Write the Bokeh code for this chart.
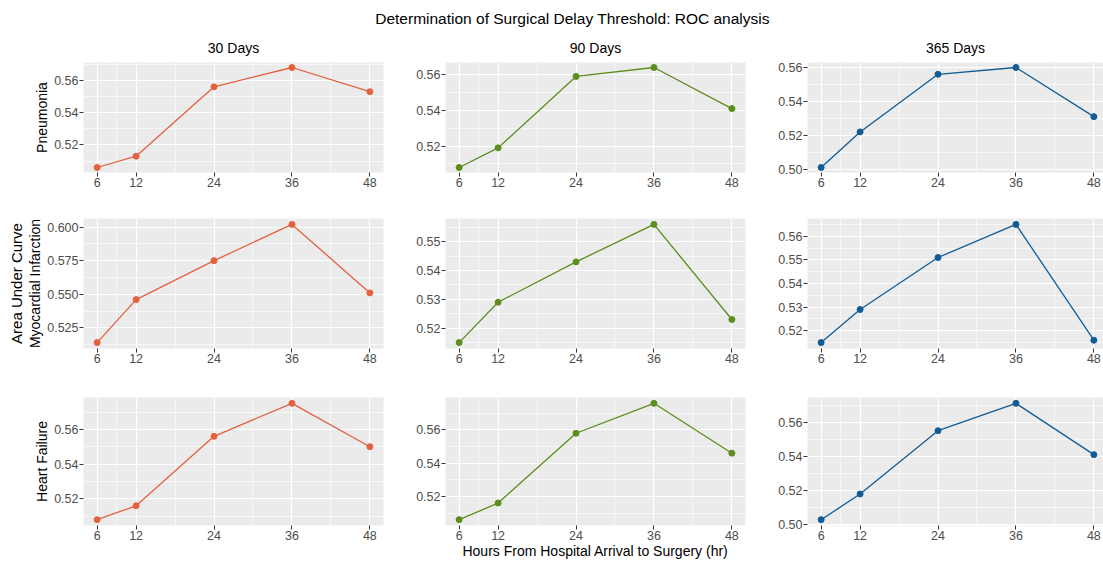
from bokeh.plotting import figure
from bokeh.layouts import row, column
from bokeh.models import FixedTicker, Range1d, LinearAxis
from bokeh.embed import file_html
from bokeh.resources import INLINE

# ---------------- data ----------------
hours = [6, 12, 24, 36, 48]
hour_labels = ["6", "12", "24", "36", "48"]
periods = ["30 Days", "90 Days", "365 Days"]
outcomes = ["Pneumonia", "Myocardial Infarction", "Heart Failure"]
colors = ["#E4603E", "#5B8E1C", "#125C96"]

pneumonia_30 = [0.506, 0.513, 0.556, 0.568, 0.553]
pneumonia_90 = [0.508, 0.519, 0.559, 0.564, 0.541]
pneumonia_365 = [0.501, 0.522, 0.556, 0.560, 0.531]
mi_30 = [0.514, 0.546, 0.575, 0.602, 0.551]
mi_90 = [0.515, 0.529, 0.543, 0.556, 0.523]
mi_365 = [0.515, 0.529, 0.551, 0.565, 0.516]
hf_30 = [0.508, 0.516, 0.556, 0.575, 0.550]
hf_90 = [0.506, 0.516, 0.558, 0.576, 0.546]
hf_365 = [0.503, 0.518, 0.555, 0.571, 0.541]

yticks_pneumonia_30 = ["0.52", "0.54", "0.56"]
yticks_pneumonia_90 = ["0.52", "0.54", "0.56"]
yticks_pneumonia_365 = ["0.50", "0.52", "0.54", "0.56"]
yticks_mi_30 = ["0.525", "0.550", "0.575", "0.600"]
yticks_mi_90 = ["0.52", "0.53", "0.54", "0.55"]
yticks_mi_365 = ["0.52", "0.53", "0.54", "0.55", "0.56"]
yticks_hf_30 = ["0.52", "0.54", "0.56"]
yticks_hf_90 = ["0.52", "0.54", "0.56"]
yticks_hf_365 = ["0.50", "0.52", "0.54", "0.56"]

suptitle = "Determination of Surgical Delay Threshold: ROC analysis"
x_title = "Hours From Hospital Arrival to Surgery (hr)"
y_title = "Area Under Curve"

series = [
    [pneumonia_30, pneumonia_90, pneumonia_365],
    [mi_30, mi_90, mi_365],
    [hf_30, hf_90, hf_365],
]
yticks = [
    [yticks_pneumonia_30, yticks_pneumonia_90, yticks_pneumonia_365],
    [yticks_mi_30, yticks_mi_90, yticks_mi_365],
    [yticks_hf_30, yticks_hf_90, yticks_hf_365],
]

# ---------------- layout / style ----------------
FONT = "Liberation Sans"
TOTAL_W = 1103
head_h = 35
frame_h = [110, 130, 130]
top_b = [27, 26, 27]
bot_b = [20, 22, 34]
left_b = [83, 54, 54]
frame_w = [300, 300, 296]
right_b = [8, 8, 0]


def minor_between(vals, lo, hi):
    out = []
    step = vals[1] - vals[0]
    ext = [vals[0] - step] + list(vals) + [vals[-1] + step]
    for a, b in zip(ext[:-1], ext[1:]):
        m = (a + b) / 2
        if lo <= m <= hi:
            out.append(m)
    return out


def bare_axis(label, size, standoff):
    ax = LinearAxis(axis_label=label, ticker=FixedTicker(ticks=[]))
    ax.axis_line_color = None
    ax.major_tick_line_color = None
    ax.minor_tick_line_color = None
    ax.major_label_standoff = 0
    ax.major_tick_out = 0
    ax.major_tick_in = 0
    ax.axis_label_text_font = FONT
    ax.axis_label_text_font_size = size
    ax.axis_label_text_font_style = "normal"
    ax.axis_label_text_color = "black"
    ax.axis_label_standoff = standoff
    return ax


# header figure carrying the overall title
head = figure(width=TOTAL_W, height=head_h, min_border_left=41, min_border_right=0,
              min_border_top=31, min_border_bottom=0,
              output_backend="svg", toolbar_location=None, title=suptitle)
head.axis.visible = False
head.grid.visible = False
head.outline_line_color = None
head.background_fill_color = "white"
head.border_fill_color = "white"
head.title.align = "center"
head.title.text_font = FONT
head.title.text_font_size = "15.5px"
head.title.text_font_style = "normal"
head.title.text_color = "black"

rows = [head]
for r in range(3):
    row_figs = []
    for c in range(3):
        ys = series[r][c]
        tick_lbls = yticks[r][c]
        tick_vals = [float(t) for t in tick_lbls]
        ylo, yhi = min(ys), max(ys)
        pad = (yhi - ylo) * 0.05
        y0, y1 = ylo - pad, yhi + pad
        xspan = hours[-1] - hours[0]
        x0 = hours[0] - 0.05 * xspan
        x1 = hours[-1] + 0.05 * xspan
        x1 = x0 + (x1 - x0) * frame_w[c] / 300.0

        p = figure(
            width=left_b[c] + frame_w[c] + right_b[c],
            height=top_b[r] + frame_h[r] + bot_b[r],
            min_border_left=left_b[c], min_border_right=right_b[c],
            min_border_top=top_b[r], min_border_bottom=bot_b[r],
            x_range=Range1d(x0, x1), y_range=Range1d(y0, y1),
            output_backend="svg", toolbar_location=None,
        )
        p.background_fill_color = "#EBEBEB"
        p.border_fill_color = "white"
        p.outline_line_color = None

        p.xaxis.ticker = FixedTicker(ticks=hours, minor_ticks=[9, 18, 30, 42])
        p.xaxis.major_label_overrides = {h: l for h, l in zip(hours, hour_labels)}
        p.yaxis.ticker = FixedTicker(ticks=tick_vals,
                                     minor_ticks=minor_between(tick_vals, y0, y1))
        p.yaxis.major_label_overrides = {v: l for v, l in zip(tick_vals, tick_lbls)}

        for ax in (p.xaxis, p.yaxis):
            ax.axis_line_color = None
            ax.major_tick_line_color = "#333333"
            ax.major_tick_out = 4
            ax.major_tick_in = 0
            ax.minor_tick_line_color = None
            ax.major_label_text_font = FONT
            ax.major_label_text_font_size = "12.5px"
            ax.major_label_text_color = "#4D4D4D"
            ax.major_label_standoff = 1
            ax.axis_label_text_font = FONT
            ax.axis_label_text_font_size = "14px"
            ax.axis_label_text_font_style = "normal"
            ax.axis_label_text_color = "black"
            ax.axis_label_standoff = 1

        if c == 0:
            p.yaxis.axis_label = outcomes[r]
        if r == 2 and c == 1:
            p.xaxis.axis_label = x_title
            p.xaxis.axis_label_standoff = 0
        # extra label-only axes, added after the styling above
        if r == 0:
            p.add_layout(bare_axis(periods[c], "14px", 7), "above")
        if r == 1 and c == 0:
            p.add_layout(bare_axis(y_title, "15px", 0), "left")

        for g in (p.xgrid, p.ygrid):
            g.grid_line_color = "white"
            g.grid_line_width = 1.2
            g.minor_grid_line_color = "white"
            g.minor_grid_line_width = 0.6

        p.line(hours, ys, line_color=colors[c], line_width=1.3)
        p.scatter(hours, ys, size=6, fill_color=colors[c], line_color=colors[c])
        row_figs.append(p)
    rows.append(row(*row_figs, spacing=0))

layout = column(*rows, spacing=0)

open("out.html", "w").write(file_html(layout, INLINE))
